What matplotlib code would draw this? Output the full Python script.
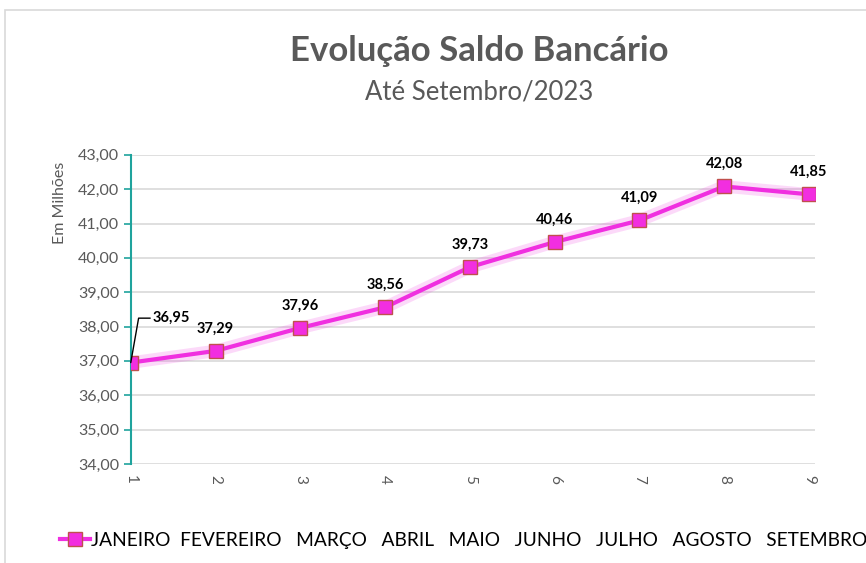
import matplotlib.pyplot as plt
from matplotlib.patches import Rectangle

# dados (saldo em milhões)
meses = [1, 2, 3, 4, 5, 6, 7, 8, 9]
saldo = [36.95, 37.29, 37.96, 38.56, 39.73, 40.46, 41.09, 42.08, 41.85]
nome_serie = 'JANEIRO  FEVEREIRO   MARÇO   ABRIL   MAIO   JUNHO   JULHO   AGOSTO   SETEMBRO'

plt.rcParams['font.family'] = ['Lato', 'DejaVu Sans']
cinza = '#595959'
teal = '#1fa39d'
rosa = '#f02fe0'

fig = plt.figure(figsize=(8.66, 5.63), dpi=100)
ax = fig.add_axes([0.151, 0.176, 0.790, 0.549])

# borda do gráfico
fig.patches.append(Rectangle((0.006, -0.01), 1.0, 0.993, transform=fig.transFigure,
                             fill=False, edgecolor='#d9d9d9', linewidth=1.2))

# brilho + linha
ax.plot(meses, saldo, color=rosa, linewidth=9, alpha=0.18, solid_capstyle='round', zorder=2)
ax.plot(meses, saldo, color=rosa, linewidth=3, marker='s', markersize=10,
        markerfacecolor='#f22ee0', markeredgecolor='#c0504d', markeredgewidth=1,
        label=nome_serie, zorder=3)

for i, (x, y) in enumerate(zip(meses, saldo)):
    txt = f'{y:.2f}'.replace('.', ',')
    if i == 0:
        ax.annotate(txt, xy=(x, y), xytext=(16, 32), textcoords='offset points',
                    fontsize=10.5, fontweight='bold', ha='left', va='center',
                    arrowprops=dict(arrowstyle='-', color='black', lw=1,
                                    connectionstyle='angle,angleA=0,angleB=80,rad=0',
                                    shrinkA=0, shrinkB=0))
    else:
        ax.annotate(txt, xy=(x, y), xytext=(0, 16), textcoords='offset points',
                    fontsize=10.5, fontweight='bold', ha='center', va='center')

ax.set_xlim(1, 9.07)
ax.set_ylim(34, 43)
ax.set_xticks(meses)
ax.set_xticklabels([str(m) for m in meses], rotation=270, fontsize=11, color=cinza)
ax.set_yticks(range(34, 44))
ax.set_yticklabels([f'{v},00' for v in range(34, 44)], fontsize=11.5, color=cinza)
ax.tick_params(axis='x', length=0, pad=8)
ax.tick_params(axis='y', length=5, color=teal, width=1.2, direction='out')
ax.grid(axis='y', color='#d9d9d9', linewidth=1.2)
ax.set_axisbelow(True)
for s in ['top', 'right', 'bottom']:
    ax.spines[s].set_visible(False)
ax.spines['left'].set_color(teal)
ax.spines['left'].set_linewidth(1.5)

fig.text(0.069, 0.64, 'Em Milhões', rotation=90, ha='center', va='center',
         fontsize=11.5, color=cinza)
fig.text(0.553, 0.91, 'Evolução Saldo Bancário', ha='center', va='center',
         fontsize=25, fontweight='bold', color=cinza)
fig.text(0.553, 0.836, 'Até Setembro/2023', ha='center', va='center',
         fontsize=18.5, color=cinza)

leg = fig.legend(loc='center left', bbox_to_anchor=(0.069, 0.04), frameon=False,
                 fontsize=13.8, handlelength=1.6, handletextpad=0.05,
                 borderaxespad=0, borderpad=0)

fig.savefig('out.png', dpi=100)
